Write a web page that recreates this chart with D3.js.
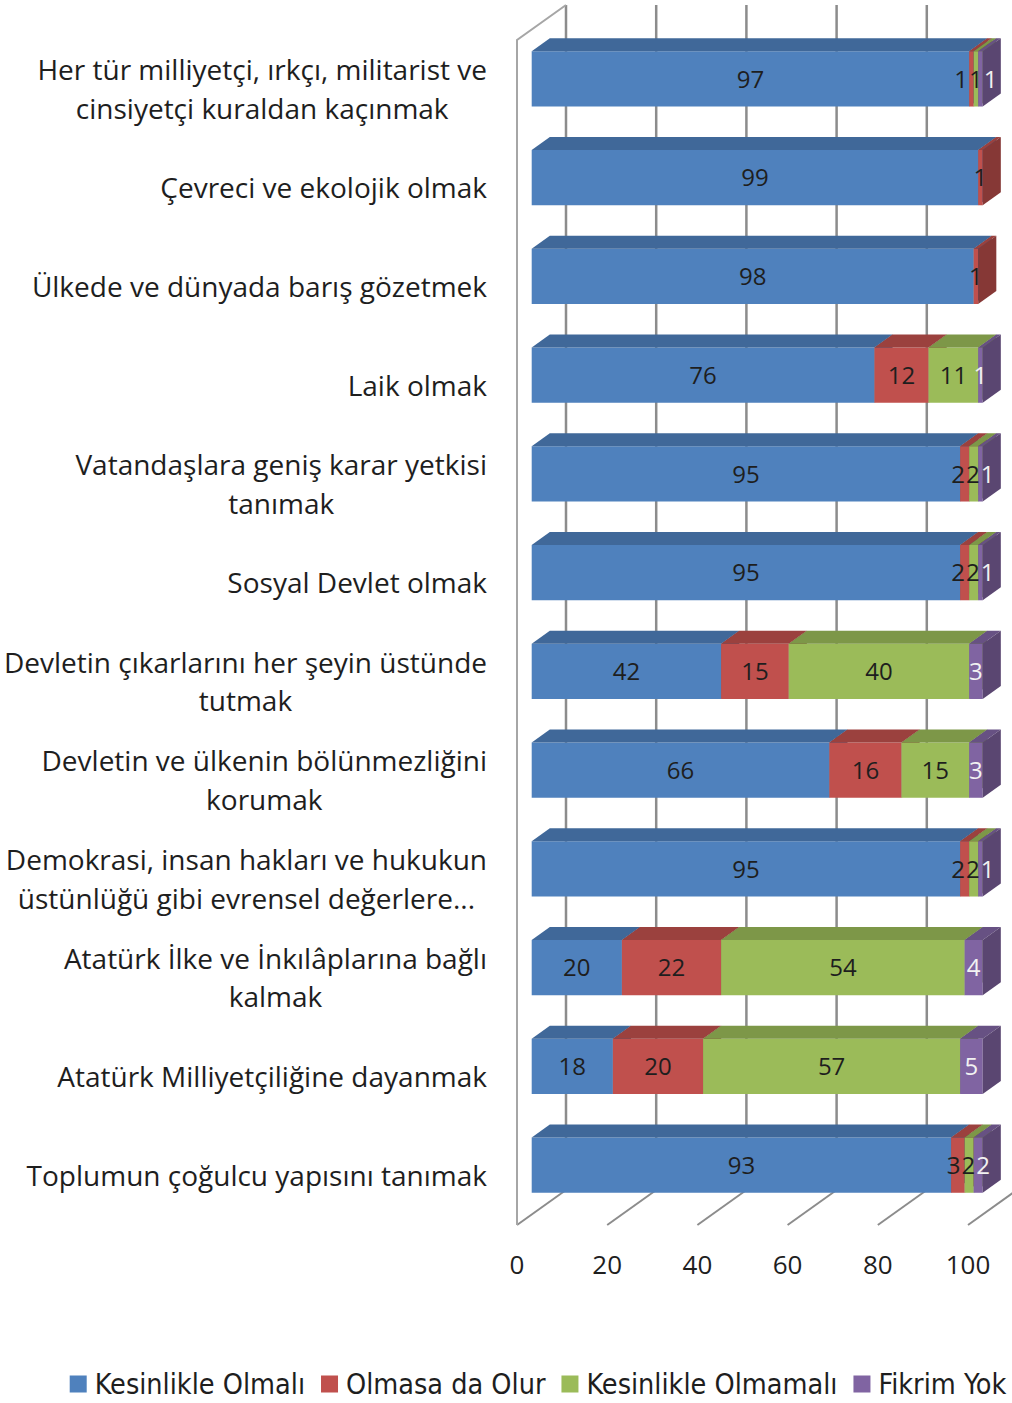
<!DOCTYPE html>
<html>
<head>
<meta charset="utf-8">
<script src="https://cdn.jsdelivr.net/npm/d3@7"></script>
<style>
  body { margin: 0; background: #fff; }
  svg { display: block; }
</style>
</head>
<body>
<div id="chart"></div>
<script>
// Data (percent)
const categories = [
  "Her tür milliyetçi, ırkçı, militarist ve\ncinsiyetçi kuraldan kaçınmak",
  "Çevreci ve ekolojik olmak",
  "Ülkede ve dünyada barış gözetmek",
  "Laik olmak",
  "Vatandaşlara geniş karar yetkisi\ntanımak",
  "Sosyal Devlet olmak",
  "Devletin çıkarlarını her şeyin üstünde\ntutmak",
  "Devletin ve ülkenin bölünmezliğini\nkorumak",
  "Demokrasi, insan hakları ve hukukun\nüstünlüğü gibi evrensel değerlere...",
  "Atatürk İlke ve İnkılâplarına bağlı\nkalmak",
  "Atatürk Milliyetçiliğine dayanmak",
  "Toplumun çoğulcu yapısını tanımak"
];
const seriesNames = ["Kesinlikle Olmalı", "Olmasa da Olur", "Kesinlikle Olmamalı", "Fikrim Yok"];
const kesinlikleOlmali   = [97, 99, 98, 76, 95, 95, 42, 66, 95, 20, 18, 93];
const olmasaDaOlur       = [1, 1, 1, 12, 2, 2, 15, 16, 2, 22, 20, 3];
const kesinlikleOlmamali = [1, 0, 0, 11, 2, 2, 40, 15, 2, 54, 57, 2];
const fikrimYok          = [1, 0, 0, 1, 1, 1, 3, 3, 1, 4, 5, 2];
const xTicks = [0, 20, 40, 60, 80, 100];

const seriesValues = [kesinlikleOlmali, olmasaDaOlur, kesinlikleOlmamali, fikrimYok];
const colors = ["#4F81BD", "#C0504D", "#9BBB59", "#8064A2"];
const labelColors = ["#1e1e1e", "#1e1e1e", "#1e1e1e", "#f2f2f2"];

const width = 1012, height = 1403;
const font = "'Open Sans', 'Noto Sans', sans-serif";

// 3D box: front plane plus a depth vector towards the back wall
const depth = {dx: 49, dy: -35};
const barFront = 0.3, barBack = 0.67;
const plot = {top: 40, bottom: 1225, labelRight: 487};

const svg = d3.select("#chart").append("svg")
  .attr("width", width)
  .attr("height", height);

const xScale = d3.scaleLinear().domain([0, 100]).range([517, 968]);
const yScale = d3.scaleBand()
  .domain(d3.range(categories.length))
  .range([plot.top, plot.bottom])
  .paddingInner(0.44)
  .paddingOuter(0.22);

// project a point at depth fraction f
const P = (x, y, f) => [x + f * depth.dx, y + f * depth.dy];

/* walls */
const walls = svg.append("g");
// back wall grid lines
walls.selectAll(".grid").data(xTicks).enter().append("line")
  .attr("x1", d => xScale(d) + depth.dx).attr("x2", d => xScale(d) + depth.dx)
  .attr("y1", plot.top + depth.dy).attr("y2", plot.bottom + depth.dy)
  .attr("stroke", "#8c8c8c").attr("stroke-width", 2.5);
// floor lines
walls.selectAll(".floor").data(xTicks).enter().append("line")
  .attr("x1", d => xScale(d)).attr("y1", plot.bottom)
  .attr("x2", d => xScale(d) + depth.dx).attr("y2", plot.bottom + depth.dy)
  .attr("stroke", "#8c8c8c").attr("stroke-width", 2);
// left wall
walls.append("path")
  .attr("d", d3.line()([
    [xScale(0), plot.bottom], [xScale(0), plot.top],
    [xScale(0) + depth.dx, plot.top + depth.dy]
  ]))
  .attr("fill", "none").attr("stroke", "#a6a6a6").attr("stroke-width", 2);

/* bars */
const rows = categories.map((c, i) => {
  let cum = 0;
  const segs = seriesValues.map((vals, s) => {
    const seg = {s, v: vals[i], start: cum, end: cum + vals[i]};
    cum += vals[i];
    return seg;
  }).filter(d => d.v > 0);
  return {i, segs};
});

const bw = yScale.bandwidth();
const bars = svg.append("g");
rows.forEach(row => {
  const y0 = yScale(row.i), y1 = y0 + bw;
  const g = bars.append("g");
  row.segs.forEach(seg => {
    const xa = xScale(seg.start), xb = xScale(seg.end);
    const c = d3.color(colors[seg.s]);
    const ftl = P(xa, y0, barFront), ftr = P(xb, y0, barFront);
    const fbr = P(xb, y1, barFront), fbl = P(xa, y1, barFront);
    const btl = P(xa, y0, barBack), btr = P(xb, y0, barBack);
    const bbr = P(xb, y1, barBack);
    g.append("path").attr("d", "M" + [ftl, ftr, fbr, fbl].join("L") + "Z")
      .attr("fill", c.formatHex());
    g.append("path").attr("d", "M" + [ftl, ftr, btr, btl].join("L") + "Z")
      .attr("fill", c.darker(0.6).formatHex());
    g.append("path").attr("d", "M" + [ftr, btr, bbr, fbr].join("L") + "Z")
      .attr("fill", c.darker(1.0).formatHex());
  });

  // value labels, spread apart where they collide
  const cy = y0 + bw / 2 + barFront * depth.dy;
  const labels = row.segs.map(seg => ({
    seg,
    x: (xScale(seg.start) + xScale(seg.end)) / 2 + barFront * depth.dx
  }));
  const texts = labels.map(l => g.append("text")
    .attr("y", cy).attr("dy", "0.36em")
    .attr("text-anchor", "middle")
    .attr("font-family", font).attr("font-size", 24)
    .attr("fill", labelColors[l.seg.s])
    .text(l.seg.v));
  labels.forEach((l, k) => { l.w = texts[k].node().getComputedTextLength(); });
  for (let it = 0; it < 60; it++) {
    for (let k = 0; k < labels.length - 1; k++) {
      const a = labels[k], b = labels[k + 1];
      const need = (a.w + b.w) / 2 + 1;
      const gap = b.x - a.x;
      if (gap < need) { a.x -= (need - gap) / 2; b.x += (need - gap) / 2; }
    }
  }
  texts.forEach((t, k) => t.attr("x", labels[k].x));
});

/* category labels */
const catG = svg.append("g");
categories.forEach((c, i) => {
  const lines = c.split("\n");
  const lineH = 38.5;
  const cy = yScale(i) + bw / 2;
  const t = catG.append("text")
    .attr("font-family", font).attr("font-size", 28)
    .attr("fill", "#1e1e1e").attr("text-anchor", "middle");
  const spans = lines.map((ln, k) => t.append("tspan")
    .attr("y", cy + (k - (lines.length - 1) / 2) * lineH)
    .attr("dy", "0.36em")
    .text(ln));
  const maxW = d3.max(spans, s => s.node().getComputedTextLength());
  spans.forEach(s => s.attr("x", plot.labelRight - maxW / 2));
});

/* x axis labels */
svg.append("g").selectAll("text").data(xTicks).enter().append("text")
  .attr("x", d => xScale(d)).attr("y", plot.bottom + 40).attr("dy", "0.36em")
  .attr("text-anchor", "middle")
  .attr("font-family", font).attr("font-size", 26)
  .attr("fill", "#1e1e1e")
  .text(d => d);

/* legend */
const legend = svg.append("g");
const legendY = 1384, sw = 17, gapIn = 8, gapOut = 16;
const items = seriesNames.map((n, s) => {
  const g = legend.append("g");
  g.append("rect").attr("width", sw).attr("height", sw)
    .attr("y", legendY - sw / 2).attr("fill", colors[s]);
  const t = g.append("text").attr("x", sw + gapIn).attr("y", legendY).attr("dy", "0.36em")
    .attr("font-family", "'Liberation Sans Narrow', 'DejaVu Sans Condensed', sans-serif")
    .attr("font-size", 28.5).attr("fill", "#1e1e1e").text(n);
  return {g, w: sw + gapIn + t.node().getComputedTextLength()};
});
const total = d3.sum(items, d => d.w) + gapOut * (items.length - 1);
let lx = 538 - total / 2;
items.forEach(it => { it.g.attr("transform", `translate(${lx},0)`); lx += it.w + gapOut; });
</script>
</body>
</html>
